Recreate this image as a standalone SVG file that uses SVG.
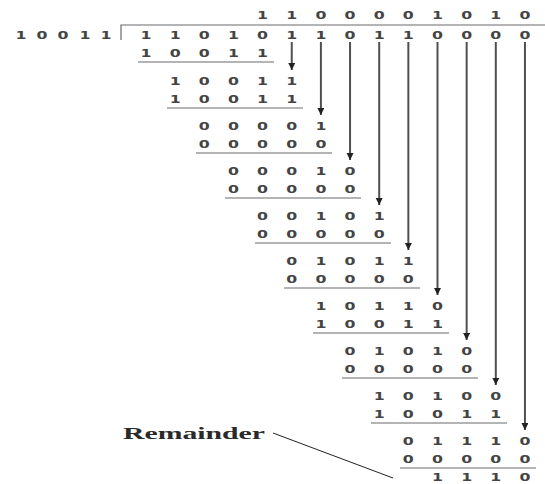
<svg xmlns="http://www.w3.org/2000/svg" width="545" height="484" viewBox="0 0 545 484">
<style>
.d{font-family:"DejaVu Sans",sans-serif;font-weight:bold;font-size:10.5px;fill:#444;text-anchor:middle}
.u{stroke:#6a6a6a;stroke-width:1.2;fill:none}
.a{stroke:#505050;stroke-width:2;marker-end:url(#ah)}
.lbl{font-family:"Liberation Serif",serif;font-weight:bold;font-size:16px;fill:#2a2a2a}
</style>
<defs>
<marker id="ah" markerUnits="userSpaceOnUse" markerWidth="8" markerHeight="8" refX="7" refY="3.5" orient="auto">
<path d="M0,0 L7,3.5 L0,7 z" fill="#222"/>
</marker>
</defs>
<rect width="545" height="484" fill="#fff"/>
<g id="bracket"><path class="u" d="M121,40 L121,25 L545,25"/></g>
<g id="rows" transform="scale(1.5 1)">
<g id="quotient"><text class="d" x="175.07 194.5 213.93 233.37 252.8 272.23 291.67 311.1 330.53 349.97" y="19">1100001010</text></g>
<g id="divisor"><text class="d" x="14 28 42 56.67 70.67" y="39">10011</text></g>
<g id="dividend"><text class="d" x="97.33 116.77 136.2 155.63 175.07 194.5 213.93 233.37 252.8 272.23 291.67 311.1 330.53 349.97" y="39">11010110110000</text></g>
<g id="step0"><text class="d" x="97.33 116.77 136.2 155.63 175.07" y="57">10011</text></g>
<g id="step1"><text class="d" x="116.77 136.2 155.63 175.07 194.5" y="85">10011</text><text class="d" x="116.77 136.2 155.63 175.07 194.5" y="103">10011</text></g>
<g id="step2"><text class="d" x="136.2 155.63 175.07 194.5 213.93" y="130">00001</text><text class="d" x="136.2 155.63 175.07 194.5 213.93" y="148">00000</text></g>
<g id="step3"><text class="d" x="155.63 175.07 194.5 213.93 233.37" y="175">00010</text><text class="d" x="155.63 175.07 194.5 213.93 233.37" y="193">00000</text></g>
<g id="step4"><text class="d" x="175.07 194.5 213.93 233.37 252.8" y="220">00101</text><text class="d" x="175.07 194.5 213.93 233.37 252.8" y="238">00000</text></g>
<g id="step5"><text class="d" x="194.5 213.93 233.37 252.8 272.23" y="265">01011</text><text class="d" x="194.5 213.93 233.37 252.8 272.23" y="283">00000</text></g>
<g id="step6"><text class="d" x="213.93 233.37 252.8 272.23 291.67" y="310">10110</text><text class="d" x="213.93 233.37 252.8 272.23 291.67" y="328">10011</text></g>
<g id="step7"><text class="d" x="233.37 252.8 272.23 291.67 311.1" y="355">01010</text><text class="d" x="233.37 252.8 272.23 291.67 311.1" y="373">00000</text></g>
<g id="step8"><text class="d" x="252.8 272.23 291.67 311.1 330.53" y="400">10100</text><text class="d" x="252.8 272.23 291.67 311.1 330.53" y="418">10011</text></g>
<g id="step9"><text class="d" x="272.23 291.67 311.1 330.53 349.97" y="445">01110</text><text class="d" x="272.23 291.67 311.1 330.53 349.97" y="463">00000</text></g>
<g id="remainder"><text class="d" x="291.67 311.1 330.53 349.97" y="481">1110</text></g>
</g>
<g id="underlines">
<line class="u" x1="138" y1="62" x2="274" y2="62"/>
<line class="u" x1="167" y1="108" x2="303" y2="108"/>
<line class="u" x1="196" y1="153" x2="332" y2="153"/>
<line class="u" x1="225" y1="198" x2="361" y2="198"/>
<line class="u" x1="255" y1="243" x2="391" y2="243"/>
<line class="u" x1="284" y1="288" x2="420" y2="288"/>
<line class="u" x1="313" y1="333" x2="449" y2="333"/>
<line class="u" x1="342" y1="378" x2="478" y2="378"/>
<line class="u" x1="371" y1="423" x2="507" y2="423"/>
<line class="u" x1="400" y1="468" x2="536" y2="468"/>
</g>
<g id="connectors">
<line class="a" x1="291.75" y1="42" x2="291.75" y2="70"/>
<line class="a" x1="320.9" y1="42" x2="320.9" y2="115"/>
<line class="a" x1="350.05" y1="42" x2="350.05" y2="160"/>
<line class="a" x1="379.2" y1="42" x2="379.2" y2="205"/>
<line class="a" x1="408.35" y1="42" x2="408.35" y2="250"/>
<line class="a" x1="437.5" y1="42" x2="437.5" y2="295"/>
<line class="a" x1="466.65" y1="42" x2="466.65" y2="340"/>
<line class="a" x1="495.8" y1="42" x2="495.8" y2="385"/>
<line class="a" x1="524.95" y1="42" x2="524.95" y2="430"/>
<line x1="273" y1="433" x2="393" y2="478" stroke="#222" stroke-width="1"/>
</g>
<g id="label"><text class="lbl" x="123" y="439" textLength="142" lengthAdjust="spacingAndGlyphs">Remainder</text></g>
</svg>
